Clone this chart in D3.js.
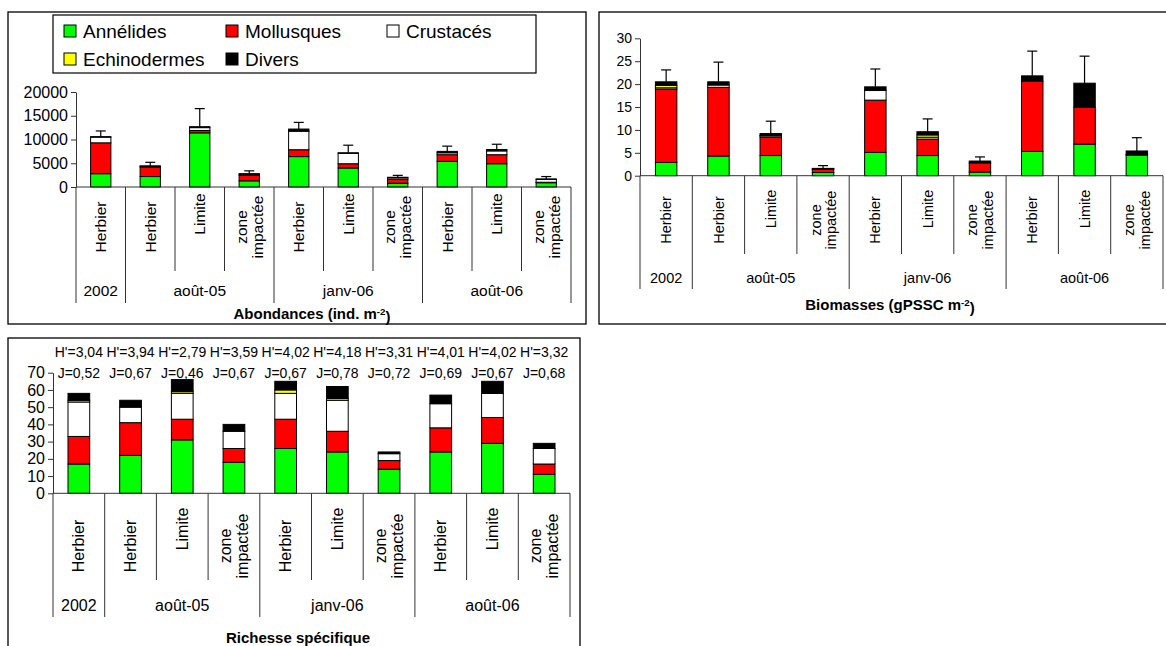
<!DOCTYPE html>
<html><head><meta charset="utf-8">
<script src="https://cdn.jsdelivr.net/npm/d3@7/dist/d3.min.js"></script>
<style>
body{margin:0;background:#fff}
svg{display:block}
text{font-family:"Liberation Sans", Arial, sans-serif; fill:#000}
</style>
</head><body>
<svg id="c" width="1166" height="646"></svg>
<script>
// ---------- data ----------
const categories = ["Herbier","Herbier","Limite","zone impactée","Herbier","Limite","zone impactée","Herbier","Limite","zone impactée"];
const groupLabels = ["2002","août-05","janv-06","août-06"];
const groupSizes = [1,3,3,3];
const seriesNames = ["Annélides","Mollusques","Crustacés","Echinodermes","Divers"];
const seriesColors = ["#00ff00","#ff0000","#ffffff","#ffff00","#000000"];

// Abondances (ind. m-2)
const abAnnelides    = [2800, 2200, 11400, 1300, 6400, 4000, 800, 5400, 4900, 900];
const abMollusques   = [6500, 2000,   500, 1150, 1450,  900, 850, 1400, 1900, 100];
const abCrustaces    = [1200,  150,   600,  250, 3900, 2200, 300,  400,  800, 600];
const abEchinodermes = [   0,    0,     0,    0,   50,    0,   0,    0,    0,   0];
const abDivers       = [ 100,  100,   200,  100,  400,  100, 100,  300,  300, 100];
const abError        = [1200,  750,  3800,  600, 1400, 1600, 400, 1100, 1100, 500];
const abTicks = [0, 5000, 10000, 15000, 20000];

// Biomasses (gPSSC m-2)
const bioAnnelides    = [2.9, 4.3, 4.4, 0.7, 5.1, 4.4, 0.8, 5.3, 6.9, 4.5];
const bioMollusques   = [16.0, 15.0, 4.0, 0.7, 11.4, 3.6, 2.0, 15.3, 8.0, 0.1];
const bioCrustaces    = [0.3, 0.5, 0.3, 0.1, 2.1, 0.4, 0, 0, 0, 0];
const bioEchinodermes = [0.5, 0, 0.1, 0, 0, 0.5, 0, 0, 0, 0];
const bioDivers       = [0.8, 0.7, 0.4, 0.1, 0.8, 0.7, 0.4, 1.2, 5.3, 0.8];
const bioError        = [2.6, 4.3, 2.7, 0.6, 3.9, 2.8, 0.9, 5.4, 5.9, 2.9];
const bioTicks = [0, 5, 10, 15, 20, 25, 30];

// Richesse spécifique
const riAnnelides    = [17, 22, 31, 18, 26, 24, 14, 24, 29, 11];
const riMollusques   = [16, 19, 12,  8, 17, 12,  5, 14, 15,  6];
const riCrustaces    = [20,  9, 15, 10, 15, 18,  4, 14, 14,  9];
const riEchinodermes = [ 1,  0,  1,  0,  2,  1,  0,  0,  0,  0];
const riDivers       = [ 4,  4,  7,  4,  5,  7,  1,  5,  7,  3];
const riTicks = [0, 10, 20, 30, 40, 50, 60, 70];
const shannonH = ["3,04","3,94","2,79","3,59","4,02","4,18","3,31","4,01","4,02","3,32"];
const pielouJ  = ["0,52","0,67","0,46","0,67","0,67","0,78","0,72","0,69","0,67","0,68"];

// ---------- drawing ----------
const svg = d3.select("#c");

function drawPanel(cfg) {
  const g = svg.append("g");
  g.append("rect").attr("x", cfg.frame[0]).attr("y", cfg.frame[1])
    .attr("width", cfg.frame[2] - cfg.frame[0]).attr("height", cfg.frame[3] - cfg.frame[1])
    .attr("fill", "#fff").attr("stroke", "#000").attr("stroke-width", 1.3);

  const idx = categories.map((c, i) => i);
  const x = d3.scaleBand().domain(idx).range(cfg.xRange).paddingInner(0).paddingOuter(0);
  const y = d3.scaleLinear().domain([0, cfg.yMax]).range(cfg.yRange);

  const rows = idx.map(i => {
    const r = {i};
    seriesNames.forEach((s, k) => r[s] = cfg.series[k][i]);
    return r;
  });
  const stack = d3.stack().keys(seriesNames)(rows);
  const bw = x.bandwidth() * cfg.barRatio;

  const yAxis = d3.axisLeft(y).tickValues(cfg.ticks).tickSize(5).tickSizeOuter(0).tickPadding(3)
    .tickFormat(d3.format("d"));
  const ya = g.append("g").attr("transform", `translate(${cfg.xRange[0]},0)`).call(yAxis);
  ya.select(".domain").attr("stroke", "#333");
  ya.selectAll(".tick line").attr("stroke", "#333");
  ya.selectAll(".tick text").style("font-size", cfg.tickFont + "px").attr("fill", "#000");

  stack.forEach((layer, k) => {
    g.append("g").selectAll("rect").data(layer).enter().append("rect")
      .attr("x", d => x(d.data.i) + (x.bandwidth() - bw) / 2)
      .attr("y", d => y(d[1]))
      .attr("width", bw)
      .attr("height", d => Math.max(0, y(d[0]) - y(d[1])))
      .attr("fill", seriesColors[k])
      .attr("stroke", "#000").attr("stroke-width", 1)
      .style("display", d => (d[1] - d[0]) > 0 ? null : "none");
  });

  if (cfg.error) {
    const top = stack[stack.length - 1];
    const eg = g.append("g").attr("stroke", "#000").attr("stroke-width", 1.2);
    top.forEach((d, i) => {
      const cx = x(i) + x.bandwidth() / 2;
      const t = d[1];
      eg.append("line").attr("x1", cx).attr("x2", cx).attr("y1", y(t)).attr("y2", y(t + cfg.error[i]));
      eg.append("line").attr("x1", cx - 5).attr("x2", cx + 5).attr("y1", y(t + cfg.error[i])).attr("y2", y(t + cfg.error[i]));
    });
  }

  const y0 = y(0);
  g.append("line").attr("x1", cfg.xRange[0]).attr("x2", cfg.xRange[1]).attr("y1", y0).attr("y2", y0)
    .attr("stroke", "#333").attr("stroke-width", 1);

  const groupBounds = [0];
  groupSizes.forEach(n => groupBounds.push(groupBounds[groupBounds.length - 1] + n));
  for (let b = 0; b <= categories.length; b++) {
    const bx = b < categories.length ? x(b) : cfg.xRange[1];
    const isGroup = groupBounds.includes(b);
    g.append("line").attr("x1", bx).attr("x2", bx).attr("y1", y0)
      .attr("y2", isGroup ? cfg.groupSepBottom : cfg.catSepBottom)
      .attr("stroke", "#333").attr("stroke-width", 1);
  }

  categories.forEach((c, i) => {
    const cx = x(i) + x.bandwidth() / 2;
    const lines = c.split(" ");
    const lh = cfg.catFont * 1.05;
    const cy = cfg.catCenter + (c === "Limite" ? cfg.limiteShift : 0);
    const t = g.append("text").attr("transform", `translate(${cx},${cy}) rotate(-90)`)
      .attr("text-anchor", "middle").style("font-size", cfg.catFont + "px");
    lines.forEach((ln, j) => {
      t.append("tspan").attr("x", 0)
        .attr("y", (j - (lines.length - 1) / 2) * lh)
        .attr("dy", "0.35em").text(ln);
    });
  });

  groupLabels.forEach((gl, k) => {
    const a = groupBounds[k], b = groupBounds[k + 1];
    const x1 = x(a), x2 = b < categories.length ? x(b) : cfg.xRange[1];
    g.append("text").attr("x", (x1 + x2) / 2).attr("y", cfg.groupY).attr("dy", "0.35em")
      .attr("text-anchor", "middle").style("font-size", cfg.groupFont + "px").text(gl);
  });

  const tt = g.append("text").attr("x", cfg.titleX).attr("y", cfg.titleY).attr("dy", "0.35em")
    .attr("text-anchor", "middle").style("font-size", cfg.titleFont + "px").style("font-weight", "bold");
  tt.append("tspan").text(cfg.title[0]);
  if (cfg.title[1]) {
    tt.append("tspan").attr("dy", "-0.45em").style("font-size", (cfg.titleFont * 0.65) + "px").text(cfg.title[1]);
    tt.append("tspan").attr("dy", "0.45em").text(cfg.title[2]);
  }
  return {g, x, y};
}

// Panel A
drawPanel({
  frame: [8, 12, 586, 324], xRange: [76, 571], yRange: [187, 92], yMax: 20000,
  ticks: abTicks, tickFont: 16, barRatio: 0.41,
  series: [abAnnelides, abMollusques, abCrustaces, abEchinodermes, abDivers], error: abError,
  catFont: 15.5, catCenter: 227, limiteShift: -13, catSepBottom: 271, groupSepBottom: 303,
  groupY: 291, groupFont: 15.5, titleX: 312, titleY: 314, titleFont: 15,
  title: ["Abondances (ind. m", "-2", ")"]
});

// legend in panel A
const lg = svg.append("g");
lg.append("rect").attr("x", 53).attr("y", 15).attr("width", 483).attr("height", 58)
  .attr("fill", "#fff").attr("stroke", "#000").attr("stroke-width", 1.2);
const legCols = [64, 226, 387], legRows = [31, 59];
seriesNames.forEach((s, k) => {
  const cx = legCols[k % 3], cy = legRows[Math.floor(k / 3)];
  lg.append("rect").attr("x", cx).attr("y", cy - 6).attr("width", 12).attr("height", 12)
    .attr("fill", seriesColors[k]).attr("stroke", "#000").attr("stroke-width", 1);
  lg.append("text").attr("x", cx + 19).attr("y", cy).attr("dy", "0.36em")
    .style("font-size", "19px").text(s);
});

// Panel B
drawPanel({
  frame: [599, 12, 1172, 324], xRange: [640, 1163], yRange: [175.7, 38.3], yMax: 30,
  ticks: bioTicks, tickFont: 14, barRatio: 0.41,
  series: [bioAnnelides, bioMollusques, bioCrustaces, bioEchinodermes, bioDivers], error: bioError,
  catFont: 14.5, catCenter: 220, limiteShift: -11, catSepBottom: 254, groupSepBottom: 289,
  groupY: 278, groupFont: 14.5, titleX: 890, titleY: 305, titleFont: 15,
  title: ["Biomasses (gPSSC m", "-2", ")"]
});

// Panel C
const pC = drawPanel({
  frame: [8, 338, 580, 670], xRange: [53, 570], yRange: [493.3, 372.7], yMax: 70,
  ticks: riTicks, tickFont: 16, barRatio: 0.42,
  series: [riAnnelides, riMollusques, riCrustaces, riEchinodermes, riDivers], error: null,
  catFont: 16, catCenter: 546, limiteShift: -17, catSepBottom: 580, groupSepBottom: 617,
  groupY: 605, groupFont: 16, titleX: 298, titleY: 638, titleFont: 15,
  title: ["Richesse spécifique"]
});

categories.forEach((c, i) => {
  const cx = pC.x(i) + pC.x.bandwidth() / 2;
  svg.append("text").attr("x", cx).attr("y", 352).attr("dy", "0.35em").attr("text-anchor", "middle")
    .style("font-size", "14px").text("H'=" + shannonH[i]);
  svg.append("text").attr("x", cx).attr("y", 373).attr("dy", "0.35em").attr("text-anchor", "middle")
    .style("font-size", "14px").text("J=" + pielouJ[i]);
});
</script>
</body></html>
